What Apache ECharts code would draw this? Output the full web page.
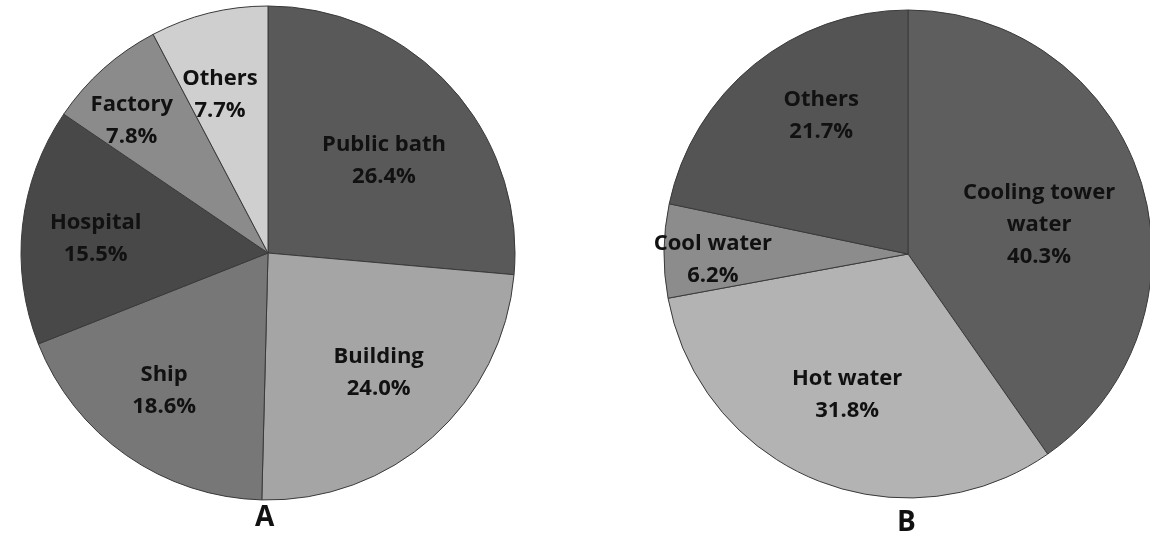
<!DOCTYPE html>
<html>
<head>
<meta charset="utf-8">
<script src="https://cdn.jsdelivr.net/npm/echarts@6/dist/echarts.min.js"></script>
<style>
html,body{margin:0;padding:0;background:#fff;}
#chart{width:1150px;height:544px;}
</style>
</head>
<body>
<div id="chart"></div>
<script>
// Pie A: sources of isolates
const categoriesA = ['Public bath', 'Building', 'Ship', 'Hospital', 'Factory', 'Others'];
const valuesA = [26.4, 24.0, 18.6, 15.5, 7.8, 7.7];
const colorsA = ['#595959', '#a5a5a5', '#777777', '#484848', '#8b8b8b', '#cfcfcf'];
// label placement: fraction of radius, angular offset (deg) from slice middle
const labelRadA = [0.60, 0.66, 0.70, 0.70, 0.77, 0.67];
const labelRotA = [4, -1, 2, -1.5, -4, -3];

// Pie B: water types
const categoriesB = ['Cooling tower\nwater', 'Hot water', 'Cool water', 'Others'];
const valuesB = [40.3, 31.8, 6.2, 21.7];
const colorsB = ['#5e5e5e', '#b3b3b3', '#8c8c8c', '#545454'];
const labelRadB = [0.55, 0.63, 0.80, 0.67];
const labelRotB = [5, 1, -2.5, 7];

const panelLabels = ['A', 'B'];

const chart = echarts.init(document.getElementById('chart'));

const centerA = [268, 253];
const centerB = [908, 254];
const radiusA = 247;
const radiusB = 244;

function makeData(cats, vals, cols) {
  return cats.map((c, i) => ({ name: c, value: vals[i], itemStyle: { color: cols[i] } }));
}

function makeLayout(center, R, vals, rad, rot) {
  const total = vals.reduce((a, b) => a + b, 0);
  return function (params) {
    const i = params.dataIndex;
    let before = 0;
    for (let j = 0; j < i; j++) before += vals[j];
    const mid = (before + vals[i] / 2) / total * 360 + rot[i];
    const a = mid * Math.PI / 180;
    const d = rad[i] * R;
    return {
      x: center[0] + d * Math.sin(a),
      y: center[1] - d * Math.cos(a),
      align: 'center',
      verticalAlign: 'middle'
    };
  };
}

const labelStyle = {
  show: true,
  position: 'inside',
  formatter: p => p.name + '\n' + p.value.toFixed(1) + '%',
  fontFamily: 'Open Sans',
  fontWeight: 'bold',
  fontSize: 22,
  lineHeight: 32,
  color: '#111'
};

chart.setOption({
  animation: false,
  backgroundColor: '#fff',
  graphic: [
    { type: 'text', left: 255, top: 504, style: { text: panelLabels[0], font: 'bold 28px "Open Sans"', fill: '#111' } },
    { type: 'text', left: 897, top: 509, style: { text: panelLabels[1], font: 'bold 28px "Open Sans"', fill: '#111' } }
  ],
  series: [
    {
      type: 'pie',
      center: centerA,
      radius: radiusA,
      startAngle: 90,
      clockwise: true,
      silent: true,
      itemStyle: { borderColor: '#3a3a3a', borderWidth: 1 },
      label: labelStyle,
      labelLine: { show: false },
      labelLayout: makeLayout(centerA, radiusA, valuesA, labelRadA, labelRotA),
      data: makeData(categoriesA, valuesA, colorsA)
    },
    {
      type: 'pie',
      center: centerB,
      radius: radiusB,
      startAngle: 90,
      clockwise: true,
      silent: true,
      itemStyle: { borderColor: '#3a3a3a', borderWidth: 1 },
      label: labelStyle,
      labelLine: { show: false },
      labelLayout: makeLayout(centerB, radiusB, valuesB, labelRadB, labelRotB),
      data: makeData(categoriesB, valuesB, colorsB)
    }
  ]
});
</script>
</body>
</html>
